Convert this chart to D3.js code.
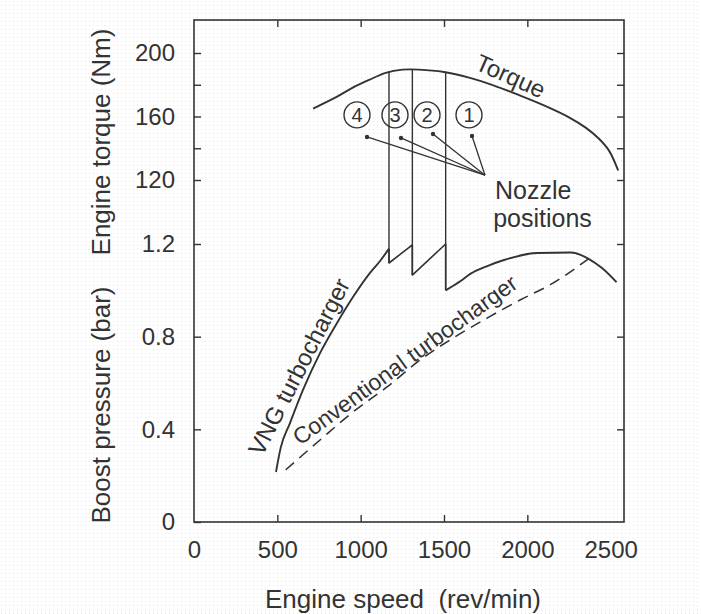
<!DOCTYPE html>
<html>
<head>
<meta charset="utf-8">
<script src="https://cdn.jsdelivr.net/npm/d3@7"></script>
<style>
  body { margin: 0; background: #fff; }
  svg text { font-family: "Liberation Sans", Arial, Helvetica, sans-serif; fill: #333; }
</style>
</head>
<body>
<svg id="chart" width="701" height="614"></svg>
<script>
// ---- data ----
// torque curve (Nm)
var torqueRpm = [715, 850, 950, 1050, 1150, 1250, 1350, 1500, 1650, 1800, 1950, 2100, 2250, 2350, 2430, 2490, 2545];
var torqueNm  = [165, 172, 178, 183, 187.5, 189.5, 189.5, 188, 184.5, 179.5, 173.5, 167, 159.5, 153, 146, 138.5, 126];

// VNG turbocharger boost (bar): rising part, nozzle steps, tail
var vngRpm  = [492, 520, 576, 654, 756, 858, 954, 1056, 1120, 1170];
var vngBar  = [0.216, 0.32, 0.427, 0.57, 0.729, 0.859, 0.971, 1.075, 1.13, 1.18];
var stepRpm = [1170, 1170, 1310, 1310, 1510, 1510];
var stepBar = [1.18, 1.118, 1.196, 1.066, 1.2, 1.0];
var tailRpm = [1510, 1600, 1660, 1760, 1860, 2060, 2260, 2370, 2450, 2535];
var tailBar = [1.0, 1.04, 1.072, 1.105, 1.131, 1.161, 1.163, 1.135, 1.095, 1.035];

// conventional turbocharger boost (bar)
var convRpm = [550, 756, 954, 1158, 1356, 1554, 1758, 1956, 2154, 2365];
var convBar = [0.225, 0.354, 0.475, 0.583, 0.699, 0.794, 0.88, 0.958, 1.031, 1.135];

// nozzle position lines
var nozzleRpm   = [1170, 1310, 1510];
var nozzleTopNm = [188.5, 189.5, 188];
var nozzleBotBar = [1.118, 1.066, 1.0];

// circled labels and their leader lines
var circleLabels = ["4", "3", "2", "1"];
var circleRpm = [978, 1206, 1398, 1650];
var circleNm  = [161, 161, 161, 161];
var dotRpm = [1038, 1242, 1434, 1668];
var dotNm  = [147.1, 146.5, 149, 147.7];
var leaderRpm = 1746, leaderNm = 123;

// ticks
var xLabels = [0, 500, 1000, 1500, 2000, 2500];
var xTicks = [500, 1000, 1500, 2000];
var torqueTicks = [120, 140, 160, 180, 200];
var torqueLabels = [120, 160, 200];
var boostTicks = [0, 0.4, 0.8, 1.2];

var ink = "#333";
var svg = d3.select("#chart");

// faint scan texture
var pat = svg.append("defs").append("pattern")
    .attr("id", "grain").attr("width", 4).attr("height", 4)
    .attr("patternUnits", "userSpaceOnUse");
pat.append("rect").attr("width", 4).attr("height", 4).attr("fill", "#fff");
pat.append("rect").attr("x", 1).attr("y", 1).attr("width", 1).attr("height", 1).attr("fill", "#e6e6e6");
svg.append("rect").attr("width", 701).attr("height", 614).attr("fill", "url(#grain)");

var frameTop = 20;
var x  = d3.scaleLinear().domain([0, 2580]).range([194, 624]);
var yT = d3.scaleLinear().domain([120, 200]).range([180, 53]);
var yB = d3.scaleLinear().domain([0, 1.2]).range([522, 244]);
var left = x.range()[0], right = x.range()[1], bottom = yB.range()[0];

// frame
svg.append("rect")
    .attr("x", left).attr("y", frameTop)
    .attr("width", right - left).attr("height", bottom - frameTop)
    .attr("fill", "none").attr("stroke", ink).attr("stroke-width", 1.6);

function styleAxis(g, size) {
    g.attr("color", ink);
    g.select(".domain").remove();
    g.selectAll("line").attr("stroke-width", 1.4);
    g.selectAll("text").style("font-size", size + "px");
}

// left axes
svg.append("g").attr("transform", "translate(" + left + ",0)")
    .call(d3.axisLeft(yT).tickValues(torqueTicks).tickSize(-7).tickPadding(19)
        .tickFormat(d => torqueLabels.includes(d) ? d : ""))
    .call(g => styleAxis(g, 24));
svg.append("g").attr("transform", "translate(" + left + ",0)")
    .call(d3.axisLeft(yB).tickValues(boostTicks).tickSize(-7).tickPadding(19)
        .tickFormat(d => d === 0 ? "0" : d3.format(".1f")(d)))
    .call(g => styleAxis(g, 24));

// right axes (ticks only)
svg.append("g").attr("transform", "translate(" + right + ",0)")
    .call(d3.axisRight(yT).tickValues(torqueTicks).tickSize(-7).tickFormat(""))
    .call(g => styleAxis(g, 24));
svg.append("g").attr("transform", "translate(" + right + ",0)")
    .call(d3.axisRight(yB).tickValues(boostTicks.slice(1)).tickSize(-7).tickFormat(""))
    .call(g => styleAxis(g, 24));

// bottom labels + ticks, top ticks
svg.append("g").attr("transform", "translate(0," + bottom + ")")
    .call(d3.axisBottom(x).tickValues(xLabels).tickSize(0).tickPadding(19).tickFormat(d3.format("d")))
    .call(g => styleAxis(g, 24));
svg.append("g").attr("transform", "translate(0," + bottom + ")")
    .call(d3.axisBottom(x).tickValues(xTicks).tickSize(-7).tickFormat(""))
    .call(g => styleAxis(g, 24));
svg.append("g").attr("transform", "translate(0," + frameTop + ")")
    .call(d3.axisTop(x).tickValues(xTicks).tickSize(-7).tickFormat(""))
    .call(g => styleAxis(g, 24));

// axis titles
svg.append("text")
    .attr("x", 403).attr("y", 608)
    .attr("text-anchor", "middle").style("font-size", "26px")
    .text("Engine speed\u00a0\u00a0(rev/min)");
svg.append("text")
    .attr("transform", "translate(110,142) rotate(-90)")
    .attr("text-anchor", "middle").style("font-size", "26px")
    .text("Engine torque (Nm)");
svg.append("text")
    .attr("transform", "translate(110,405) rotate(-90)")
    .attr("text-anchor", "middle").style("font-size", "26px")
    .text("Boost pressure (bar)");

// curves
function curvePath(xs, ys, yScale, curve) {
    return d3.line()
        .x(d => x(d[0])).y(d => yScale(d[1]))
        .curve(curve)(d3.zip(xs, ys));
}
var curveStyle = { fill: "none", stroke: ink, "stroke-width": 1.9, "stroke-linejoin": "round" };
function addPath(d, extra) {
    var p = svg.append("path").attr("d", d);
    Object.entries(curveStyle).forEach(([k, v]) => p.attr(k, v));
    if (extra) Object.entries(extra).forEach(([k, v]) => p.attr(k, v));
    return p;
}

addPath(curvePath(torqueRpm, torqueNm, yT, d3.curveCatmullRom));
addPath(curvePath(vngRpm, vngBar, yB, d3.curveMonotoneX));
addPath(curvePath(stepRpm, stepBar, yB, d3.curveLinear), { "stroke-width": 1.6 });
addPath(curvePath(tailRpm, tailBar, yB, d3.curveMonotoneX));
addPath(curvePath(convRpm, convBar, yB, d3.curveMonotoneX),
    { "stroke-width": 1.6, "stroke-dasharray": "11,7" });

// nozzle position lines
svg.selectAll(".nozzle").data(d3.zip(nozzleRpm, nozzleTopNm, nozzleBotBar))
    .enter().append("line")
    .attr("class", "nozzle")
    .attr("x1", d => x(d[0])).attr("x2", d => x(d[0]))
    .attr("y1", d => yT(d[1])).attr("y2", d => yB(d[2]))
    .attr("stroke", ink).attr("stroke-width", 1.4);

// leader lines and dots
var dots = d3.zip(dotRpm, dotNm);
svg.selectAll(".leader").data(dots).enter().append("line")
    .attr("class", "leader")
    .attr("x1", d => x(d[0])).attr("y1", d => yT(d[1]))
    .attr("x2", x(leaderRpm)).attr("y2", yT(leaderNm))
    .attr("stroke", ink).attr("stroke-width", 1.3);
svg.selectAll(".dot").data(dots).enter().append("circle")
    .attr("class", "dot")
    .attr("cx", d => x(d[0])).attr("cy", d => yT(d[1])).attr("r", 2.2)
    .attr("fill", ink);

// circled numbers
var circ = svg.selectAll(".circ").data(d3.zip(circleLabels, circleRpm, circleNm))
    .enter().append("g").attr("class", "circ")
    .attr("transform", d => "translate(" + x(d[1]) + "," + yT(d[2]) + ")");
circ.append("circle").attr("r", 13)
    .attr("fill", "none").attr("stroke", ink).attr("stroke-width", 1.4);
circ.append("text").attr("text-anchor", "middle").attr("dy", "0.36em")
    .style("font-size", "20px").text(d => d[0]);

// annotations
svg.append("text")
    .attr("transform", "translate(" + x(1900) + "," + yT(185.5) + ") rotate(24)")
    .attr("text-anchor", "middle").attr("dy", "0.35em")
    .style("font-size", "24px").text("Torque");
svg.append("text")
    .attr("x", x(1806)).attr("y", yT(108))
    .style("font-size", "25px").text("Nozzle");
svg.append("text")
    .attr("x", x(1795)).attr("y", yT(90.5))
    .style("font-size", "25px").text("positions");
svg.append("text")
    .attr("transform", "translate(" + x(630) + "," + yB(0.67) + ") rotate(-63)")
    .attr("text-anchor", "middle").attr("dy", "0.35em")
    .style("font-size", "24px").text("VNG turbocharger");
svg.append("text")
    .attr("transform", "translate(" + x(1265) + "," + yB(0.7) + ") rotate(-36)")
    .attr("text-anchor", "middle").attr("dy", "0.35em")
    .style("font-size", "23px").text("Conventional turbocharger");
</script>
</body>
</html>
